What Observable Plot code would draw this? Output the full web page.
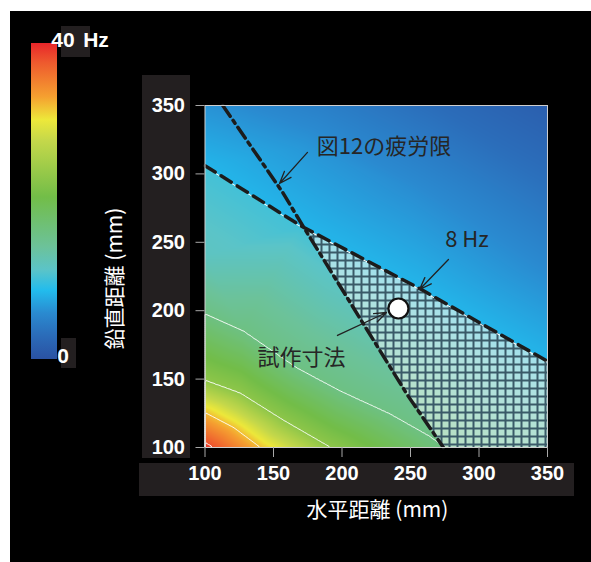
<!DOCTYPE html>
<html><head><meta charset="utf-8">
<script src="https://cdn.jsdelivr.net/npm/d3@7"></script>
<script src="https://cdn.jsdelivr.net/npm/@observablehq/plot@0.6"></script>
<style>
html,body{margin:0;padding:0;background:#fff;}
#wrap{position:relative;width:591px;height:562px;overflow:hidden;}
#bg{position:absolute;left:10px;top:11px;right:0;bottom:0;background:#000;}
#chart{position:absolute;left:0;top:0;}
</style></head><body><div id="wrap"><div id="bg"></div><div id="chart"></div></div>
<script>
// ---- data ----
const xTicks = [100, 150, 200, 250, 300, 350];
const yTicks = [100, 150, 200, 250, 300, 350];
const colorDomain = [0, 3, 5.8, 8.7, 11.3, 14.2, 20.5, 27.7, 30.3, 33.2, 37.5, 40];
const colorRange = ["#2a52a3","#2b6cb9","#2a8ad0","#22bced","#5bc4c8","#6cc29a","#72bd48","#c5d84a","#ede83a","#f5a030","#ee5a2e","#e8262a"];
const colorbarLabels = ["40", "0"];

// sampled frequency values (x mm, y mm, Hz) — region above the 8 Hz line
const fieldUpper = [[100,350,6.3],[190,350,4.8],[270,350,3],[350,350,1.5],[350,290,3.5],[350,230,5.8],[250,290,6],[170,320,6.6]];
const fieldTop8 = [[100,306,8.3],[170,262,8.3],[257,216,8.3],[350,163,8.3]];
// region below the 8 Hz line
const fieldBottom8 = [[100,306,10.2],[170,262,10.2],[257,216,10.2],[350,163,10.2]];
const field12 = [[100,240,11.8],[190,210,12.3],[270,165,12.5],[350,125,12.6]];
const field16 = [[100,197.6,16],[127.7,185.2,16],[167,158,16],[198.5,141.2,16],[235,124.4,16],[264,108,16],[275,100,16]];
const fieldRight = [[350,100,13.5],[310,100,14.5]];
const field23 = [[100,149,23],[126,139.5,23],[157,120,23],[191.6,100,23]];
const field32 = [[100,125.6,32],[121,114.6,32],[140.5,100,32]];
const field38 = [[100,103.6,38],[106,100,38]];
const fieldCorner = [[100,100,40]];
const contourLevels = [16, 23, 32, 38];

// boundary lines
const eightHzX = [100, 170, 257, 350];
const eightHzY = [306, 262, 216, 163];
const fatigueX = [113, 157, 172, 248, 274];
const fatigueY = [350, 286, 261, 138, 100];
// hatched (acceptable) region
const hatchX = [172, 257, 350, 350, 274, 248, 172];
const hatchY = [261, 216, 163, 100, 100, 138, 261];

// prototype dimension
const protoX = [241.2], protoY = [201.6];

// annotations
const noteText = ["図12の疲労限", "8 Hz", "試作寸法"];
const noteX = [230.7, 291.2, 170.4];
const noteY = [319.7, 252, 165.4];
const arrowX1 = [174.8, 277.7, 196.7];
const arrowY1 = [315.7, 237.4, 181.9];
const arrowX2 = [154.4, 256.6, 232.5];
const arrowY2 = [293, 215.5, 198.7];

// ---- build tables ----
const toRows = (arr) => arr.flat().map(([x, y, f]) => ({x, y, f}));
const fieldAbove = toRows([fieldUpper, fieldTop8]);
const fieldBelow = toRows([fieldBottom8, field12, field16, fieldRight, field23, field32, field38, fieldCorner]);
const eightHz = eightHzX.map((x, i) => ({x, y: eightHzY[i]}));
const fatigue = fatigueX.map((x, i) => ({x, y: fatigueY[i]}));
const hatch = hatchX.map((x, i) => ({x, y: hatchY[i]}));
const notes = noteText.map((t, i) => ({t, x: noteX[i], y: noteY[i]}));
const arrows = arrowX1.map((x1, i) => ({x1, y1: arrowY1[i], x2: arrowX2[i], y2: arrowY2[i]}));
const proto = protoX.map((x, i) => ({x, y: protoY[i]}));

const NS = "http://www.w3.org/2000/svg";
function el(tag, attrs, text) {
  const e = document.createElementNS(NS, tag);
  for (const k in attrs) e.setAttribute(k, attrs[k]);
  if (text != null) e.textContent = text;
  return e;
}

function decorations(index, scales) {
  const g = el("g", {});
  const defs = el("defs", {});
  const grad = el("linearGradient", {id: "cbar", x1: 0, y1: 1, x2: 0, y2: 0});
  colorDomain.forEach((v, i) => grad.appendChild(el("stop", {offset: v / 40, "stop-color": colorRange[i]})));
  defs.appendChild(grad);
  const pat = el("pattern", {id: "hatch", patternUnits: "userSpaceOnUse", width: 8, height: 8, x: 0, y: 3});
  pat.appendChild(el("rect", {width: 8, height: 8, fill: "white", "fill-opacity": 0.5}));
  pat.appendChild(el("path", {d: "M0,1H8M1,0V8", stroke: "#3a5a68", "stroke-width": 2, fill: "none"}));
  defs.appendChild(pat);
  // clip region above the 8 Hz line (from the same line data)
  const pts = eightHz.map(d => [scales.x(d.x), scales.y(d.y)]);
  pts.push([scales.x(350), scales.y(350)], [scales.x(100), scales.y(350)]);
  const cp = el("clipPath", {id: "above8"});
  cp.appendChild(el("polygon", {points: pts.map(p => p.join(",")).join(" ")}));
  defs.appendChild(cp);
  g.appendChild(defs);
  // dark label panels
  g.appendChild(el("rect", {x: 142, y: 75, width: 48, height: 383, fill: "#231f20"}));
  g.appendChild(el("rect", {x: 139, y: 463, width: 435, height: 33, fill: "#231f20"}));
  // colorbar
  g.appendChild(el("rect", {x: 31, y: 43, width: 26, height: 316, fill: "url(#cbar)"}));
  g.appendChild(el("rect", {x: 61, y: 26, width: 29, height: 31, fill: "#231f20"}));
  g.appendChild(el("rect", {x: 61, y: 338, width: 15, height: 30, fill: "#231f20"}));
  const bold = {fill: "white", "font-family": "Liberation Sans, Arial, sans-serif", "font-weight": "bold", "font-size": 21};
  g.appendChild(el("text", {...bold, x: 63, y: 47}, colorbarLabels[0]));
  g.appendChild(el("text", {...bold, x: 96, y: 47}, "Hz"));
  g.appendChild(el("text", {...bold, x: 63, y: 363}, colorbarLabels[1]));
  // axis titles
  const lab = {fill: "white", "font-family": "Noto Sans CJK JP, sans-serif", "font-size": 21, "text-anchor": "middle", "dominant-baseline": "central"};
  g.appendChild(el("text", {...lab, transform: "translate(112.5,278.5) rotate(-90)"}, "鉛直距離 (mm)"));
  g.appendChild(el("text", {...lab, x: 377.5, y: 508}, "水平距離 (mm)"));
  return g;
}

const chart = Plot.plot({
  width: 591,
  height: 562,
  marginLeft: 204.5,
  marginRight: 44,
  marginTop: 105,
  marginBottom: 115,
  style: {background: "transparent", fontFamily: "Liberation Sans, Arial, sans-serif"},
  x: {domain: [100, 350]},
  y: {domain: [100, 350]},
  color: {type: "linear", domain: colorDomain, range: colorRange, interpolate: "rgb"},
  marks: [
    decorations,
    Plot.raster(fieldBelow, {x: "x", y: "y", fill: "f", interpolate: "barycentric", x1: 100, y1: 100, x2: 350, y2: 350}),
    Plot.raster(fieldAbove, {x: "x", y: "y", fill: "f", interpolate: "barycentric", x1: 100, y1: 100, x2: 350, y2: 350}),
    Plot.line(hatch, {x: "x", y: "y", fill: "url(#hatch)", stroke: "none"}),
    Plot.contour(fieldBelow, {x: "x", y: "y", value: "f", interpolate: "barycentric", thresholds: contourLevels, x1: 100, y1: 100, x2: 350, y2: 350, fill: "none", stroke: "white", strokeWidth: 1, strokeOpacity: 0.9}),
    Plot.line(eightHz, {x: "x", y: "y", stroke: "white", strokeWidth: 1, dy: 1}),
    Plot.line(eightHz, {x: "x", y: "y", stroke: "#1c1c1c", strokeWidth: 3.5, strokeDasharray: "12,7"}),
    Plot.line(fatigue, {x: "x", y: "y", stroke: "#1c1c1c", strokeWidth: 3.5, strokeDasharray: "13,5,3.5,5"}),
    Plot.arrow(arrows, {x1: "x1", y1: "y1", x2: "x2", y2: "y2", stroke: "#222", strokeWidth: 1.3, headAngle: 40, headLength: 15}),
    Plot.dot(proto, {x: "x", y: "y", r: 10, fill: "white", stroke: "#111", strokeWidth: 2.2}),
    Plot.text(notes, {x: "x", y: "y", text: "t", fontFamily: "Noto Sans CJK JP, sans-serif", fontSize: 22, fill: "#262626"}),
    Plot.frame({stroke: "#cfcfcf"}),
    Plot.axisX({ticks: xTicks, tickSize: 10, tickPadding: 8, stroke: "#a8a8a8", fill: "white", fontSize: 20, fontWeight: "bold", label: null}),
    Plot.axisY({ticks: yTicks, tickSize: 9, tickPadding: 11, stroke: "#a8a8a8", fill: "white", fontSize: 20, fontWeight: "bold", label: null})
  ]
});
const rasters = chart.querySelectorAll('g[aria-label="raster"]');
if (rasters.length > 1) rasters[1].setAttribute("clip-path", "url(#above8)");
document.getElementById("chart").appendChild(chart);
</script>
</body></html>
